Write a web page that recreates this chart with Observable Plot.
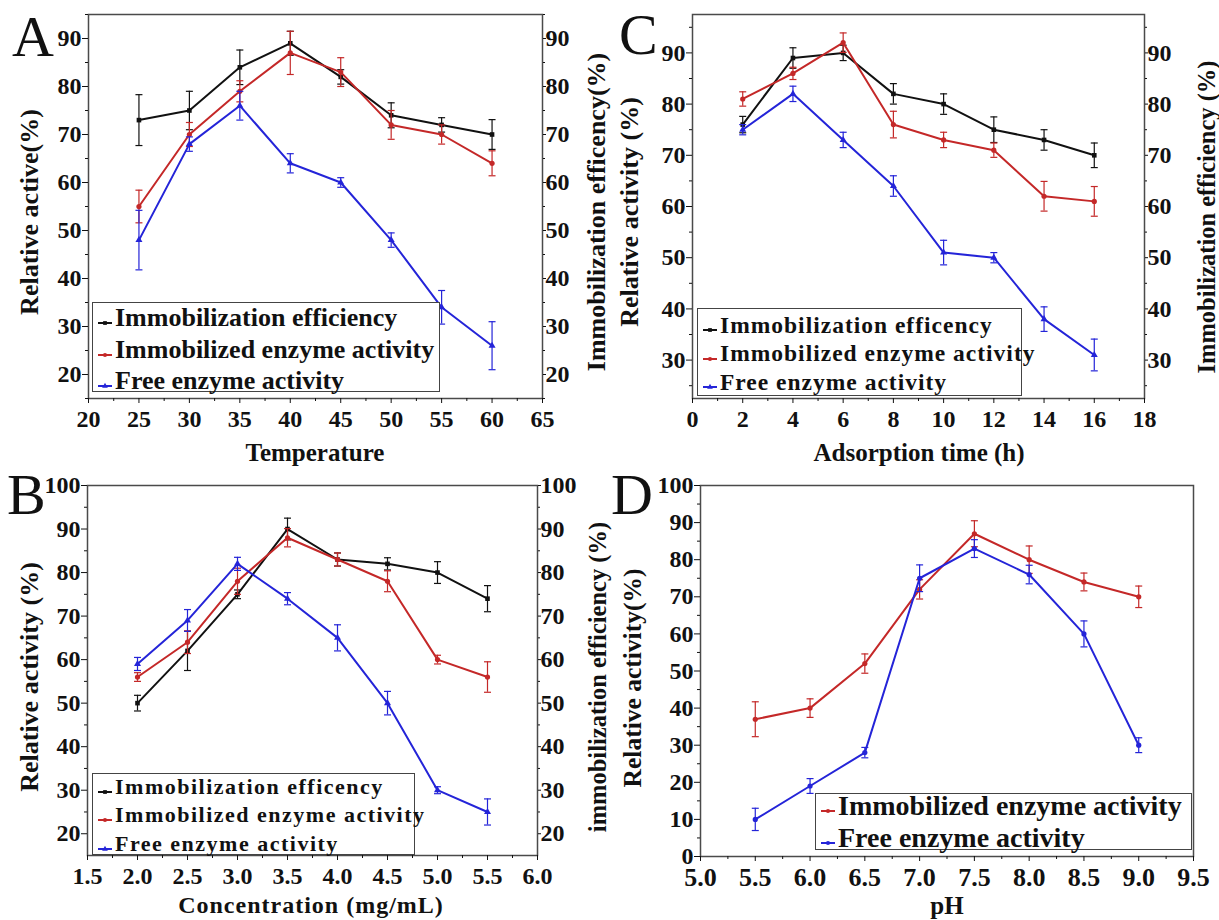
<!DOCTYPE html>
<html><head><meta charset="utf-8">
<script src="https://cdn.jsdelivr.net/npm/d3@7"></script>
<script src="https://cdn.jsdelivr.net/npm/@observablehq/plot@0.6"></script>
<style>
body{margin:0;background:#fff;}
#root{position:relative;width:1219px;height:920px;overflow:hidden;font-family:"Liberation Serif","Times New Roman",serif;font-weight:bold;color:#111;}
#root svg{position:absolute;}
#root svg text{font-family:"Liberation Serif",serif !important;font-weight:bold;}
.letter{position:absolute;font-weight:normal;font-size:58px;line-height:1;}
.vt{position:absolute;white-space:nowrap;transform:translate(-50%,-50%) rotate(-90deg);line-height:1;}
.ht{position:absolute;white-space:nowrap;transform:translate(-50%,-50%);line-height:1;}
.legend{position:absolute;border:1.5px solid #444;box-sizing:border-box;background:#fff;}
.lrow{position:absolute;left:0;display:flex;align-items:center;white-space:nowrap;}
.lrow svg{position:relative !important;}
</style></head>
<body><div id="root"></div>
<script>
// ---------- data ----------
const seriesNames3a = ["Immobilization efficiency","Immobilized enzyme activity","Free enzyme activity"];
const seriesNames3b = ["Immobilization efficency","Immobilized enzyme activity","Free enzyme activity"];
const seriesNames2 = ["Immobilized enzyme activity","Free enzyme activity"];

const tempX = [25,30,35,40,45,50,55,60];
const tempEff = [73,75,84,89,82,74,72,70];
const tempEffErr = [5.3,4,3.6,2.5,1.5,2.6,1.5,3.1];
const tempImm = [55,70,79,87,83,72,70,64];
const tempImmErr = [3.4,2.5,2.2,4.5,3,3,2,2.6];
const tempFree = [48,68,76,64,60,48,34,26];
const tempFreeErr = [6.2,1.5,3,2,1,1.5,3.5,5];

const timeX = [2,4,6,8,10,12,14,16];
const timeEff = [76,89,90,82,80,75,73,70];
const timeEffErr = [1.6,2,1.5,2,2,2.5,2,2.4];
const timeImm = [81,86,92,76,73,71,62,61];
const timeImmErr = [1.4,1.2,1.9,2.6,1.5,1.4,2.9,2.9];
const timeFree = [75,82,73,64,51,50,38,31];
const timeFreeErr = [1,1.5,1.5,2,2.4,1,2.4,3.1];

const concX = [2.0,2.5,3.0,3.5,4.0,4.5,5.0,5.5];
const concEff = [50,62,75,90,83,82,80,74];
const concEffErr = [1.8,4.5,1,2.5,1.5,1.4,2.5,3];
const concImm = [56,64,78,88,83,78,60,56];
const concImmErr = [1,2.6,3,2.1,1.5,2.4,1,3.5];
const concFree = [59,69,82,74,65,50,30,25];
const concFreeErr = [1.5,2.5,1.5,1.4,3,2.7,0.8,3];

const phX = [5.5,6.0,6.5,7.0,7.5,8.0,8.5,9.0];
const phImm = [37,40,52,72,87,80,74,70];
const phImmErr = [4.7,2.5,2.6,2.6,3.5,3.7,2.4,2.9];
const phFree = [10,19,28,75,83,76,60,30];
const phFreeErr = [3,2,1.4,3.6,2.4,2.5,3.5,2];

// ---------- ticks ----------
const tempTicks = [20,25,30,35,40,45,50,55,60,65];
const tempMinor = [22.5,27.5,32.5,37.5,42.5,47.5,52.5,57.5,62.5];
const tempYTicks = [20,30,40,50,60,70,80,90];
const tempYMinor = [15,25,35,45,55,65,75,85,95];

const timeTicks = [0,2,4,6,8,10,12,14,16,18];
const timeMinor = [1,3,5,7,9,11,13,15,17];
const timeYTicks = [30,40,50,60,70,80,90];
const timeYMinor = [25,35,45,55,65,75,85,95];

const concTicks = [1.5,2.0,2.5,3.0,3.5,4.0,4.5,5.0,5.5,6.0];
const concMinor = [1.75,2.25,2.75,3.25,3.75,4.25,4.75,5.25,5.75];
const concYTicks = [20,30,40,50,60,70,80,90,100];
const concYMinor = [25,35,45,55,65,75,85,95];

const phTicks = [5.0,5.5,6.0,6.5,7.0,7.5,8.0,8.5,9.0,9.5];
const phMinor = [5.25,5.75,6.25,6.75,7.25,7.75,8.25,8.75,9.25];
const phYTicks = [0,10,20,30,40,50,60,70,80,90,100];
const phYMinor = [5,15,25,35,45,55,65,75,85,95];

const colBlack = "#111111", colRed = "#c42828", colBlue = "#2424d8";

// ---------- drawing ----------
const root = document.getElementById("root");
const capSymbol = {draw(ctx, size){ const r = Math.sqrt(size/Math.PI); ctx.moveTo(-r,0); ctx.lineTo(r,0);} };
const fmt1 = d3.format(".1f");
const FF = "Liberation Serif";

function makePanel(c){
  const marks = [Plot.frame({stroke:"#4a4a4a", strokeWidth:1.5})];
  const txt = {fontFamily:FF,fontWeight:"bold"};
  marks.push(Plot.axisY(c.yTicks,{anchor:"left",tickSize:6,tickPadding:1,label:null,fontSize:c.tf,...txt}));
  marks.push(Plot.axisY(c.yMinor,{anchor:"left",tickSize:3,tickFormat:()=>"",label:null}));
  if (c.right){
    marks.push(Plot.axisY(c.yTicks,{anchor:"right",tickSize:3,tickPadding:0,label:null,fontSize:c.tf,...txt}));
    marks.push(Plot.axisY(c.yMinor,{anchor:"right",tickSize:2,tickFormat:()=>"",label:null}));
  }
  marks.push(Plot.axisX(c.xTicks,{anchor:"bottom",tickSize:5,tickPadding:6,tickFormat:c.xf,label:null,fontSize:c.xtf||c.tf,...txt}));
  marks.push(Plot.axisX(c.xMinor,{anchor:"bottom",tickSize:3,tickFormat:()=>"",label:null}));
  c.series.forEach(s=>{
    const rows = c.x.map((xv,i)=>({x:xv,y:s.v[i],e:s.e[i]}));
    marks.push(Plot.ruleX(rows,{x:"x",y1:d=>d.y-d.e,y2:d=>d.y+d.e,stroke:s.color,strokeWidth:1.2}));
    marks.push(Plot.dot(rows,{x:"x",y:d=>d.y-d.e,symbol:capSymbol,r:3.5,stroke:s.color,strokeWidth:1.2}));
    marks.push(Plot.dot(rows,{x:"x",y:d=>d.y+d.e,symbol:capSymbol,r:3.5,stroke:s.color,strokeWidth:1.2}));
    marks.push(Plot.line(rows,{x:"x",y:"y",stroke:s.color,strokeWidth:2}));
    marks.push(Plot.dot(rows,{x:"x",y:"y",symbol:s.symbol,r:2.6,fill:s.color}));
  });
  const svg = Plot.plot({
    width:c.w,height:c.h,marginLeft:c.m[0],marginRight:c.m[1],marginTop:c.m[2],marginBottom:c.m[3],
    x:{domain:c.xd,axis:null},y:{domain:c.yd,axis:null},
    style:{background:"transparent",fontFamily:FF,fontWeight:"bold",fontSize:c.tf+"px",color:"#111",overflow:"visible"},
    marks
  });
  svg.style.left = c.left+"px"; svg.style.top = c.top+"px";
  root.appendChild(svg);
}

function addText(t, x, y, size, vertical, extra){
  const d = document.createElement("div");
  d.className = vertical ? "vt" : "ht";
  d.textContent = t;
  d.style.left = x+"px"; d.style.top = y+"px"; d.style.fontSize = size+"px";
  if (extra) Object.assign(d.style, extra);
  root.appendChild(d);
}
function addLetter(t, x, top){
  const d = document.createElement("div");
  d.className = "letter"; d.textContent = t;
  d.style.left = x+"px"; d.style.top = top+"px";
  root.appendChild(d);
}
function addLegend(box, names, colors, symbols){
  const L = document.createElement("div");
  L.className = "legend";
  Object.assign(L.style,{left:box.l+"px",top:box.t+"px",width:box.w+"px",height:box.h+"px",fontSize:box.fs+"px",letterSpacing:(box.ls||0)+"px"});
  names.forEach((n,i)=>{
    const r = document.createElement("div");
    r.className = "lrow";
    r.style.top = (box.c0 + i*box.rh - box.rh/2)+"px";
    r.style.height = box.rh+"px";
    r.style.paddingLeft = "4px";
    const sym = d3.symbol(symbols[i]==="square"?d3.symbolSquare:symbols[i]==="triangle"?d3.symbolTriangle:d3.symbolCircle, 14)();
    r.innerHTML = `<svg width="16" height="10" style="top:5px;margin-right:2px;overflow:visible"><line x1="1" x2="15" y1="5" y2="5" stroke="${colors[i]}" stroke-width="2"/><path d="${sym}" transform="translate(8,5)" fill="${colors[i]}"/></svg><span>${n}</span>`;
    L.appendChild(r);
  });
  root.appendChild(L);
}

// Panel A
makePanel({left:0,top:0,w:610,h:470,m:[88,68,14,72],xd:[20,65],yd:[15,95],
  xTicks:tempTicks,xMinor:tempMinor,yTicks:tempYTicks,yMinor:tempYMinor,right:true,tf:24,x:tempX,
  series:[{v:tempEff,e:tempEffErr,color:colBlack,symbol:"square"},{v:tempImm,e:tempImmErr,color:colRed,symbol:"circle"},{v:tempFree,e:tempFreeErr,color:colBlue,symbol:"triangle"}]});
// Panel C
makePanel({left:610,top:0,w:609,h:470,m:[82,75,14,72],xd:[0,18],yd:[22.5,97.5],
  xTicks:timeTicks,xMinor:timeMinor,yTicks:timeYTicks,yMinor:timeYMinor,right:true,tf:24,x:timeX,
  series:[{v:timeEff,e:timeEffErr,color:colBlack,symbol:"square"},{v:timeImm,e:timeImmErr,color:colRed,symbol:"circle"},{v:timeFree,e:timeFreeErr,color:colBlue,symbol:"triangle"}]});
// Panel B
makePanel({left:0,top:460,w:610,h:460,m:[87,73,25,65],xd:[1.5,6.0],yd:[15,100],
  xTicks:concTicks,xMinor:concMinor,yTicks:concYTicks,yMinor:concYMinor,right:true,tf:24,xf:fmt1,x:concX,
  series:[{v:concEff,e:concEffErr,color:colBlack,symbol:"square"},{v:concImm,e:concImmErr,color:colRed,symbol:"circle"},{v:concFree,e:concFreeErr,color:colBlue,symbol:"triangle"}]});
// Panel D
makePanel({left:610,top:460,w:609,h:460,m:[90,26,25,64],xd:[5.0,9.5],yd:[0,100],
  xTicks:phTicks,xMinor:phMinor,yTicks:phYTicks,yMinor:phYMinor,right:false,tf:24,xtf:26,xf:fmt1,x:phX,
  series:[{v:phImm,e:phImmErr,color:colRed,symbol:"circle"},{v:phFree,e:phFreeErr,color:colBlue,symbol:"circle"}]});

// panel letters
addLetter("A",12,8); addLetter("C",619,6); addLetter("B",7,466); addLetter("D",611,466);

// axis titles
addText("Relative active(%)",30,212,26,true);
addText("Immobilization efficency(%)",597,212,26,true);
addText("Temperature",315,452,25,false);
addText("Relative activity (%)",630,212,26,true);
addText("Immobilization efficiency (%)",1207,217,24.5,true);
addText("Adsorption time (h)",919,452,25,false);
addText("Relative activity (%)",30,677,26,true);
addText("immobilization efficiency (%)",598,677,24.5,true);
addText("Concentration (mg/mL)",311,905,24,false,{letterSpacing:"1px"});
addText("Relative activity(%)",633,678,25.5,true);
addText("pH",947,905,25,false);

// legends
addLegend({l:92,t:302,w:348,h:90,fs:26,c0:15,rh:31.5}, seriesNames3a, [colBlack,colRed,colBlue], ["square","circle","triangle"]);
addLegend({l:697,t:308,w:325,h:88,fs:23.5,ls:1,c0:16,rh:28.5}, seriesNames3b, [colBlack,colRed,colBlue], ["square","circle","triangle"]);
addLegend({l:92,t:773,w:323,h:82,fs:22,ls:1.5,c0:12.5,rh:28.5}, seriesNames3b, [colBlack,colRed,colBlue], ["square","circle","triangle"]);
addLegend({l:815,t:793,w:377,h:57,fs:28,c0:12,rh:32}, seriesNames2, [colRed,colBlue], ["circle","circle"]);
</script></body></html>
